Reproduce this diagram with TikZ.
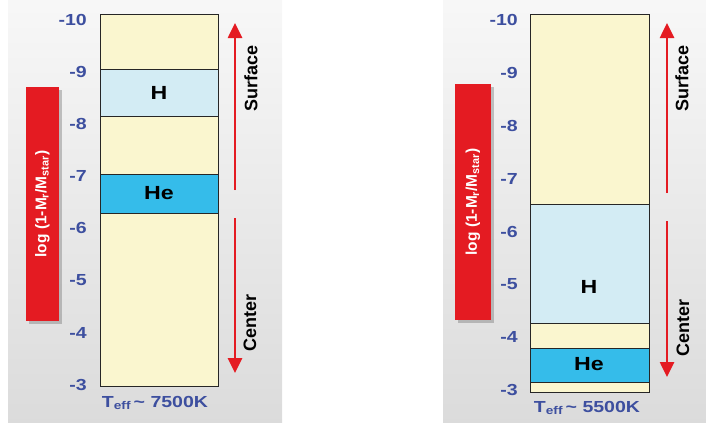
\documentclass[tikz,border=0pt]{standalone}
\usepackage{fontspec}
\setmainfont{Liberation Sans}
\newfontfamily\widesans[FakeStretch=1.22]{Liberation Sans}
\usepackage{tikz}
\usetikzlibrary{arrows.meta,positioning,shadows}
\definecolor{layerYellow}{HTML}{FAF6CF}
\definecolor{layerH}{HTML}{D3ECF4}
\definecolor{layerHe}{HTML}{35BCEA}
\definecolor{tickBlue}{HTML}{3D4F9F}
\definecolor{barRed}{HTML}{E41B22}
\tikzset{
  panel/.style={top color=black!3, bottom color=black!14, draw=none},
  yel/.style={draw=black!85, line width=0.8pt, fill=layerYellow},
  hlayer/.style={draw=black!85, line width=0.8pt, fill=layerH},
  helayer/.style={draw=black!85, line width=0.8pt, fill=layerHe},
  elem/.style={font=\widesans\fontsize{19}{21}\selectfont\bfseries, inner sep=1pt},
  tick/.style={anchor=east, text=tickBlue, font=\widesans\fontsize{16}{18}\selectfont\bfseries, inner sep=1pt},
  teff/.style={text=tickBlue, font=\widesans\fontsize{16}{18}\selectfont\bfseries, inner sep=1pt},
  redbar/.style={fill=barRed, rotate=90, text=white, font=\fontsize{15.5}{17}\selectfont\bfseries,
    drop shadow={shadow xshift=3pt, shadow yshift=-3pt, opacity=0.45}},
  dir/.style={rotate=90, font=\fontsize{18}{20}\selectfont\bfseries, inner sep=1pt},
  arr/.style={draw=barRed, fill=barRed, line width=2.6pt, -{Triangle[length=15pt,width=14pt]}}
}
\begin{document}
\begin{tikzpicture}[x=1pt,y=-1pt]
\useasboundingbox (0,0) rectangle (706,426);
\shade[panel] (8,0) rectangle (282,422);
\shade[panel] (443,0) rectangle (706,422);

% left star, 7500K
\draw[yel] (100,14) rectangle (218,69);
\draw[hlayer] (100,69) rectangle (218,116);
\draw[yel] (100,116) rectangle (218,174);
\draw[helayer] (100,174) rectangle (218,213);
\draw[yel] (100,213) rectangle (218,386);
\node[elem] (h1) at (159,93) {H};
\node[elem] (he1) at (159,193) {He};
\foreach \v [count=\k from 0] in {-10,-9,-8,-7,-6,-5,-4,-3}
  \node[tick] (t1\k) at (88,{20+52.1*\k}) {\v};
\node[redbar, minimum width=234pt, minimum height=33pt] (lbl1) at (42.5,204) {log (1-M\textsubscript{r}/M\textsubscript{star})};
\node[teff] (temp1) at (155,403) {T\textsubscript{eff}\,\textasciitilde\ 7500K};
\coordinate (s1a) at (235,190);
\coordinate (s1b) at (235,23);
\coordinate (c1a) at (235,218);
\coordinate (c1b) at (235,373);
\draw[arr] (s1a) -- (s1b);
\draw[arr] (c1a) -- (c1b);
\node[dir] (surf1) at (251,78) {Surface};
\node[dir] (cent1) at (250,323) {Center};

% right star, 5500K
\draw[yel] (530,14) rectangle (649,204);
\draw[hlayer] (530,204) rectangle (649,323);
\draw[yel] (530,323) rectangle (649,348);
\draw[helayer] (530,348) rectangle (649,382);
\draw[yel] (530,382) rectangle (649,392);
\node[elem] (h2) at (589,287) {H};
\node[elem] (he2) at (589,364) {He};
\foreach \v [count=\k from 0] in {-10,-9,-8,-7,-6,-5,-4,-3}
  \node[tick] (t2\k) at (519,{20+52.9*\k}) {\v};
\node[redbar, minimum width=236pt, minimum height=36pt] (lbl2) at (473,202) {log (1-M\textsubscript{r}/M\textsubscript{star})};
\node[teff] (temp2) at (587,408) {T\textsubscript{eff}\,\textasciitilde\ 5500K};
\coordinate (s2a) at (667,193);
\coordinate (s2b) at (667,23);
\coordinate (c2a) at (667,221);
\coordinate (c2b) at (667,377);
\draw[arr] (s2a) -- (s2b);
\draw[arr] (c2a) -- (c2b);
\node[dir] (surf2) at (682,78) {Surface};
\node[dir] (cent2) at (683,328) {Center};
\end{tikzpicture}
\end{document}
